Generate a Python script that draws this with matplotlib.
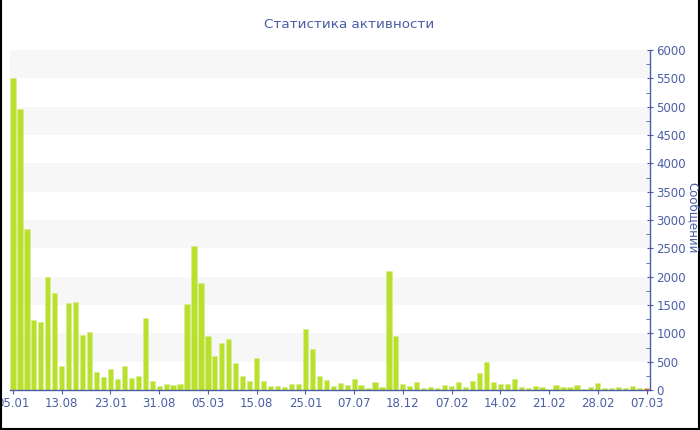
import numpy as np
import matplotlib.pyplot as plt
from matplotlib.lines import Line2D

# сообщений по дням (92 дня)
values = [5500, 4960, 2850, 1230, 1200, 1990, 1710, 420, 1530, 1550,
          965, 1020, 310, 235, 370, 190, 420, 205, 255, 1265,
          155, 70, 105, 90, 110, 1525, 2535, 1885, 955, 600,
          825, 900, 470, 245, 155, 565, 155, 75, 75, 45,
          100, 100, 1075, 720, 245, 175, 75, 130, 90, 195,
          95, 40, 135, 55, 2100, 955, 110, 70, 140, 35,
          60, 40, 90, 70, 140, 55, 165, 305, 500, 145,
          100, 105, 190, 45, 35, 70, 55, 25, 90, 60,
          60, 90, 25, 45, 120, 35, 30, 45, 40, 75,
          35, 35]
tick_labels = ["05.01", "13.08", "23.01", "31.08", "05.03", "15.08", "25.01",
               "07.07", "18.12", "07.02", "14.02", "21.02", "28.02", "07.03"]

blue = '#4a5ea6'
x = np.arange(len(values))
colors = ['#b9e02c'] * (len(values) - 1) + ['#ef5a2a']

fig = plt.figure(figsize=(7, 4.3), dpi=100)
ax = fig.add_axes([9.5/700, 1 - 390/430, (650 - 9.5)/700, 340/430])

# полосы фона
for lo in range(500, 6000, 1000):
    ax.axhspan(lo, lo + 500, color='#f7f7f7', zorder=0, lw=0)

ax.bar(x, values, width=0.75, color=colors, edgecolor='#d6ee8a', linewidth=0.4, zorder=2)

ax.set_xlim(-0.5, len(values) - 0.5)
ax.set_ylim(0, 6000)
ax.set_xticks(x[::7])
ax.set_xticklabels(tick_labels)
ax.set_yticks(range(0, 6001, 500))
ax.set_yticks(range(250, 6000, 500), minor=True)

ax.yaxis.tick_right()
for s in ['left', 'top']:
    ax.spines[s].set_visible(False)
for s in ['right', 'bottom']:
    ax.spines[s].set_color(blue)
    ax.spines[s].set_linewidth(1)

ax.tick_params(axis='y', which='major', direction='inout', length=5, color=blue,
               labelcolor=blue, labelsize=8.5, pad=2)
ax.tick_params(axis='y', which='minor', direction='in', length=3, color=blue)
ax.tick_params(axis='x', direction='out', length=3, color=blue,
               labelcolor=blue, labelsize=8.5, pad=2)
ax.set_facecolor('white')

fig.text(349/700, 1 - 25/430, "Статистика активности", ha='center', va='center',
         color=blue, fontsize=9.7)
fig.text(693/700, 1 - 218/430, "Сообщений", rotation=270, ha='center', va='center',
         color=blue, fontsize=8.5)

# рамка
for xs, ys in [([0.5/700, 0.5/700], [0, 1]), ([699/700, 699/700], [0, 1]),
               ([0, 1], [1.5/430, 1.5/430])]:
    fig.add_artist(Line2D(xs, ys, color='black', lw=1.5, transform=fig.transFigure))

fig.savefig('out.png', dpi=100)
